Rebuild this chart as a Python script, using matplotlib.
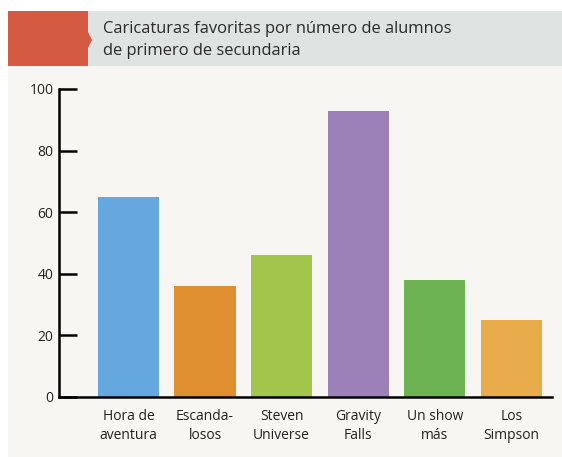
import matplotlib
matplotlib.use("Agg")
import matplotlib.pyplot as plt
from matplotlib.patches import Rectangle, Polygon

categories = ["Hora de\naventura", "Escanda-\nlosos", "Steven\nUniverse", "Gravity\nFalls", "Un show\nmás", "Los\nSimpson"]
values = [65, 36, 46, 93, 38, 25]
colors = ["#65a8df", "#e09030", "#a2c64c", "#9c80b8", "#6db353", "#e8ac4a"]
yticks = [0, 20, 40, 60, 80, 100]
title = "Caricaturas favoritas por número de alumnos\nde primero de secundaria"

plt.rcParams['font.family'] = ['Open Sans', 'DejaVu Sans']

W, H = 562, 457
fig = plt.figure(figsize=(W/100, H/100), dpi=100)
fig.patch.set_facecolor("white")

def fx(x): return x / W
def fy(y): return 1 - y / H

# background panel
fig.patches.append(Rectangle((fx(8), 0), fx(554), fy(66), transform=fig.transFigure,
                             facecolor="#f7f6f2", edgecolor="none", zorder=-2))
# header band
fig.patches.append(Rectangle((fx(8), fy(66)), fx(554), (66-11)/H, transform=fig.transFigure,
                             facecolor="#dfe4e2", edgecolor="none", zorder=-2))
fig.patches.append(Rectangle((fx(8), fy(66)), fx(80), (66-11)/H, transform=fig.transFigure,
                             facecolor="#d55a42", edgecolor="none", zorder=-1))
fig.patches.append(Polygon([(fx(88), fy(32)), (fx(92), fy(40)), (fx(88), fy(48))], closed=True,
                           transform=fig.transFigure, facecolor="#d55a42", edgecolor="none", zorder=-1))
fig.text(fx(103), fy(40), title, fontsize=11.9, color="#2a2a2a", va="center", ha="left",
         linespacing=1.45)

ax = fig.add_axes([fx(59), fy(397), fx(552-59), (397-89)/H])
ax.set_zorder(5)
ax.set_facecolor("none")
x = list(range(len(categories)))
ax.bar(x, values, width=0.8, color=colors, zorder=2)
ax.set_xlim(-0.907, 5.53)
ax.set_ylim(0, 100)
for s in ["top", "right"]:
    ax.spines[s].set_visible(False)
for s in ["left", "bottom"]:
    ax.spines[s].set_linewidth(1.8)
    ax.spines[s].set_color("black")
ax.set_yticks(yticks)
ax.set_yticklabels([str(v) for v in yticks], fontsize=10, color="#222222")
ax.tick_params(axis="y", direction="in", length=13, width=1.8, pad=4)
ax.set_xticks(x)
ax.set_xticklabels(categories, fontsize=10, color="#222222", linespacing=1.35)
ax.tick_params(axis="x", length=0, pad=9)

fig.savefig("out.png", dpi=100)
